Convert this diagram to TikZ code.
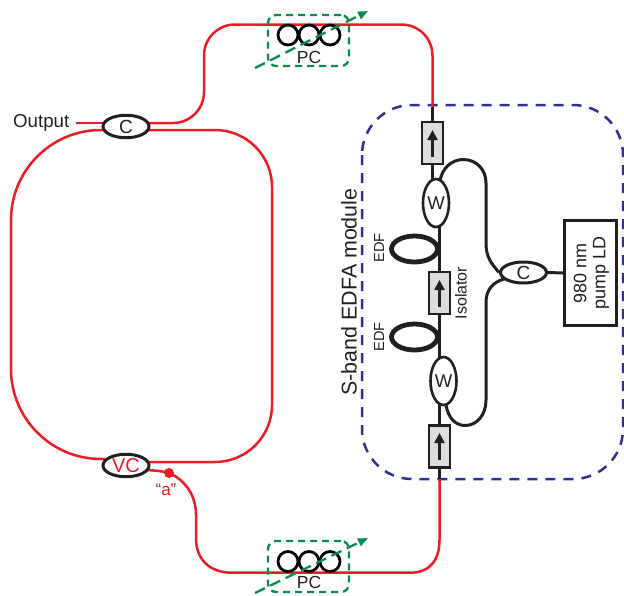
\documentclass[tikz,border=0pt]{standalone}
\usepackage{fontspec}
\setmainfont{Liberation Sans}
\usetikzlibrary{shapes.geometric,arrows.meta,backgrounds}
\definecolor{fred}{HTML}{ED1C24}
\definecolor{fblack}{HTML}{231F20}
\definecolor{fblue}{HTML}{2E3192}
\definecolor{fgreen}{HTML}{0B8A50}
\definecolor{fgray}{HTML}{DCDDDE}
\newcommand{\fpx}[1]{\fontsize{#1pt}{#1pt}\selectfont}
\tikzset{
  redfib/.style={draw=fred,line width=2.5pt},
  blkfib/.style={draw=fblack,line width=3pt},
  coupler/.style={ellipse,draw=fblack,fill=white,line width=3pt,inner sep=0pt,minimum width=46pt,minimum height=22.5pt,text=fblack,font=\fpx{19}},
  wdm/.style={ellipse,draw=fblack,fill=white,line width=2.6pt,inner sep=0pt,minimum width=26pt,minimum height=48pt,text=fblack,font=\fpx{18.5}},
  edfcoil/.style={ellipse,draw=fblack,line width=4.8pt,inner sep=0pt,minimum width=46pt,minimum height=26pt},
  isobox/.style={rectangle,draw=fblack,fill=fgray,line width=2.8pt,inner sep=0pt,minimum width=21pt,minimum height=42pt},
  pcloop/.style={circle,draw=black,line width=2.8pt,inner sep=0pt,minimum size=20pt},
  pcbox/.style={rectangle,draw=fgreen,line width=2.3pt,dash pattern=on 7pt off 5pt,rounded corners=8pt,inner sep=0pt,minimum width=81pt,minimum height=51pt},
  pcarrow/.style={draw=fgreen,line width=2.3pt,dash pattern=on 11pt off 6pt,-{Triangle[length=10pt,width=8pt,fill=fgreen]}},
  lbl/.style={text=fblack,inner sep=0pt},
  isoarrow/.style={draw=fblack,line width=2.8pt,-{Triangle[length=10pt,width=10pt,fill=fblack]}},
}
\begin{document}
\begin{tikzpicture}[x=1pt,y=-1pt]
\useasboundingbox (0,0) rectangle (624,595);
% components
\node[coupler] (C) at (126,126.5) {C};
\node[coupler] (VC) at (126,465.5) {\textcolor{fred}{\fpx{20}VC}};
\node[coupler,minimum height=21pt] (C2) at (523.5,272.5) {C};
\node[wdm] (W1) at (436,203) {W};
\node[wdm] (W2) at (443.5,381) {W};
\node[isobox] (I1) at (432.5,143) {};
\node[isobox] (I2) at (439.5,293) {};
\node[isobox] (I3) at (439.5,446.5) {};
\node[edfcoil] (E1) at (414.5,249) {};
\node[edfcoil] (E2) at (414.5,337) {};
\node[draw=fblack,fill=white,line width=3pt,inner sep=0pt,minimum width=52pt,minimum height=105pt] (LD) at (590.5,273) {};
\node[lbl,rotate=90,align=center,font=\fpx{18}] (LDt) at (591.5,273) {980 nm\\[1pt]pump LD};
% free ends of the fibres
\coordinate (OutS) at (76,123);
\coordinate (Cw) at (104,123);
\coordinate (Ce) at (148,123);
\coordinate (Cwl) at (105,130);
\coordinate (Cel) at (147,130);
\coordinate (VCw) at (105,459);
\coordinate (VCe) at (147,462);
\coordinate (VCe2) at (146,470);
\coordinate (Dot) at (169,473);
\coordinate (RB1) at (432.5,107);
\coordinate (RB2) at (439.5,479);
\begin{scope}[on background layer]
% module frame
\draw[draw=fblue,line width=2.5pt,dash pattern=on 10pt off 8pt,rounded corners=50pt] (362,105) rectangle (623,479);
% red fibres
\draw[redfib] (OutS) -- (Cw);
\draw[redfib,rounded corners=31pt] (Ce) -- (204,123) -- (204,24.5) -- (432.5,24.5) -- (RB1);
\draw[redfib,rounded corners=57pt] (VCe) -- (272,462) -- (272,130) -- (Cel);
\draw[redfib,rounded corners=90pt] (Cwl) -- (11,130) -- (11,459) -- (VCw);
\draw[redfib] (VCe2) .. controls (155,470.5) and (162,471) .. (Dot) .. controls (185,480) and (196,495) .. (196,515) -- (196,538) .. controls (196,560) and (210,572.7) .. (232,572.7) -- (410,572.7) .. controls (430,572.7) and (439.5,560) .. (439.5,540) -- (RB2);
% black fibres
\draw[blkfib] (RB1) -- (I1.north);
\draw[blkfib] (I1.south) -- (432.5,181);
\draw[blkfib] (439.5,226) -- (I2.north);
\draw[blkfib] (I2.south) -- (439.5,358);
\draw[blkfib] (439.5,404) -- (I3.north);
\draw[blkfib] (I3.south) -- (RB2);
\draw[blkfib] (C2.east) -- (LD.west);
\draw[blkfib] (440,181) .. controls (442,168) and (452,159.5) .. (463,159.5) .. controls (477,159.5) and (486,170) .. (486,183) -- (486,243) .. controls (486,258) and (492,264) .. (C2.west);
\draw[blkfib] (504,279) .. controls (493,282) and (486,290) .. (486,302) -- (486,400) .. controls (486,415) and (477,425.5) .. (465,425.5) .. controls (455,425.5) and (448,417) .. (446,405);
\end{scope}
\fill[fred] (Dot) circle (5pt);
% isolator arrows
\coordinate (A1s) at (432.5,157); \coordinate (A1e) at (432.5,130);
\coordinate (A2s) at (439.5,307); \coordinate (A2e) at (439.5,280);
\coordinate (A3s) at (439.5,460); \coordinate (A3e) at (439.5,433);
\draw[isoarrow] (A1s) -- (A1e);
\draw[isoarrow] (A2s) -- (A2e);
\draw[isoarrow] (A3s) -- (A3e);
% polarisation controllers
\node[pcloop] (P1a) at (288,35) {};
\node[pcloop] (P1b) at (309,35) {};
\node[pcloop] (P1c) at (330,35) {};
\node[pcbox] (PB1) at (308.5,40.5) {};
\coordinate (PA1s) at (255,68); \coordinate (PA1e) at (368,11);
\draw[pcarrow] (PA1s) -- (PA1e);
\node[lbl,font=\fpx{17.5}] (PT1) at (309,57) {PC};
\node[pcloop] (P2a) at (288,561.5) {};
\node[pcloop] (P2b) at (309,561.5) {};
\node[pcloop] (P2c) at (330,561.5) {};
\node[pcbox] (PB2) at (308.5,566.5) {};
\coordinate (PA2s) at (255,593); \coordinate (PA2e) at (368,538);
\draw[pcarrow] (PA2s) -- (PA2e);
\node[lbl,font=\fpx{17.5}] (PT2) at (309,582) {PC};
% labels
\node[lbl,anchor=west,font=\fpx{18.7}] (Out) at (13,123) {Output};
\node[lbl,text=fred,font=\fpx{17}] (La) at (166,490) {“a”};
\node[lbl,rotate=90,font=\fpx{21.4}] (Mod) at (349,292) {S-band EDFA module};
\node[lbl,rotate=90,font=\fpx{14.6}] (Ed1) at (379,248) {EDF};
\node[lbl,rotate=90,font=\fpx{14.6}] (Ed2) at (379,337) {EDF};
\node[lbl,rotate=90,font=\fpx{16}] (Iso) at (461,293) {Isolator};
\end{tikzpicture}
\end{document}
